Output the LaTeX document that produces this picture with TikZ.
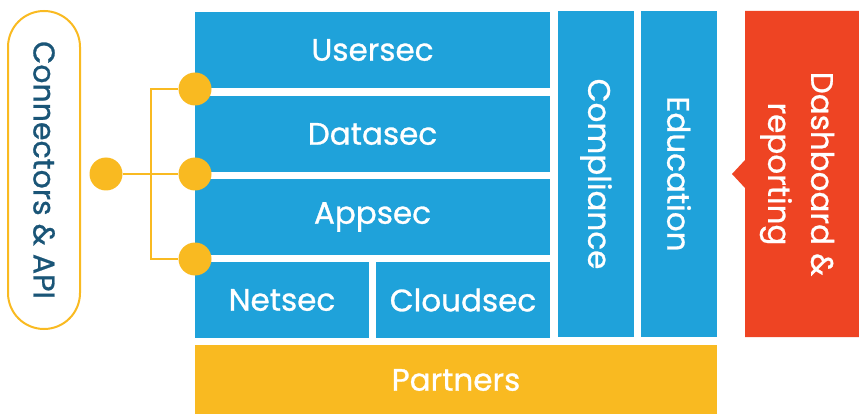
\documentclass[tikz,border=0pt]{standalone}
\usepackage{fontspec}
\setmainfont{Poppins}[FakeBold=0.9]
\definecolor{secblue}{HTML}{1FA2DA}
\definecolor{conorange}{HTML}{F9BA21}
\definecolor{dashred}{HTML}{EE4423}
\definecolor{condark}{HTML}{1A5577}

\begin{document}
\begin{tikzpicture}[x=1pt,y=-1pt,
  blk/.style={fill=secblue,text=white,inner sep=0pt,font=\fontsize{31}{36}\selectfont},
  dot/.style={circle,fill=conorange,inner sep=0pt,minimum size=33pt},
  link/.style={draw=conorange,line width=2pt}]
\useasboundingbox (0,0) rectangle (859,414);
\foreach \n/\t/\y in { user/Usersec/50 , data/Datasec/134 , app/Appsec/217 } { \node[blk,minimum width=355pt,minimum height=76pt] (\n) at (372.5,\y) {\t}; };
\node[blk,minimum width=174pt,minimum height=76pt] (net) at (282,300) {Netsec}; \node[blk,minimum width=174pt,minimum height=76pt] (cloud) at (463,300) {Cloudsec};
\foreach \n/\t/\x in { comp/Compliance/596 , edu/Education/679 } { \node[blk,rotate=-90,minimum width=326pt,minimum height=76pt] (\n) at (\x,174) {\t}; };
\node[blk,fill=conorange,minimum width=522pt,minimum height=70pt] (part) at (456,380) {Partners};
\fill[dashred] (745,11) -- (859,11) -- (859,337) -- (745,337) -- (745,188) -- (732,174) -- (745,160) -- cycle;
\node[text=white,rotate=-90,align=center,font=\fontsize{31}{43}\selectfont] (dash) at (797,174) {Dashboard \&\\reporting};
\node[draw=conorange,line width=2pt,rounded corners=36pt,minimum width=318pt,minimum height=72pt,rotate=-90,text=condark,font=\fontsize{30}{35}\selectfont] (api) at (44,170) {Connectors \& API};
\foreach \n/\y in { d1/89 , d2/174 , d3/259 } { \node[dot] (\n) at (195,\y) {}; };
\node[dot] (hub) at (106,174) {}; \coordinate (j) at (151,174);
\draw[link] (d1) -| (j) |- (d3); \draw[link] (hub) -- (d2);
\end{tikzpicture}
\end{document}
